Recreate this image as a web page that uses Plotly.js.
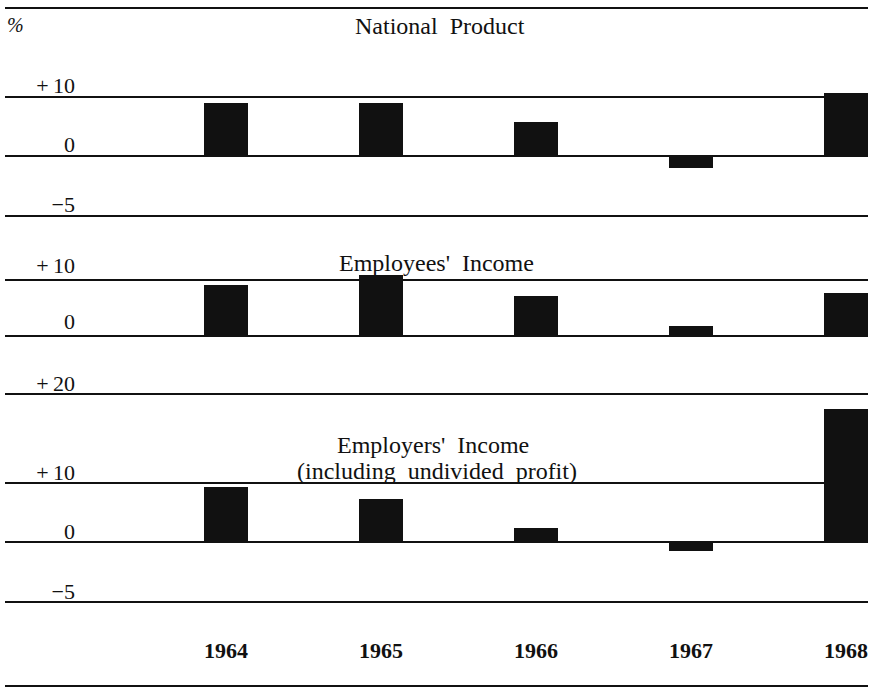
<!DOCTYPE html>
<html>
<head>
<meta charset="utf-8">
<script src="https://cdn.plot.ly/plotly-3.0.1.min.js"></script>
<style>
  html, body { margin: 0; padding: 0; background: #fff; }
  #chart { width: 870px; height: 690px; }
</style>
</head>
<body>
<div id="chart"></div>
<script>
// ---- data (annual % change) ----
const years = ['1964', '1965', '1966', '1967', '1968'];
const nationalProduct = [8.9, 8.9, 5.7, -2.0, 10.6];
const employeesIncome = [9.2, 10.9, 7.2, 1.8, 7.7];
const employersIncome = [9.3, 7.3, 2.4, -1.6, 22.5];

// ---- tick labels (as printed) ----
const tickTextTop = ['', '+\u200910', '0', '\u22125'];
const tickTextMid = ['+\u200910', '0'];
const tickTextBottom = ['+\u200920', '+\u200910', '0', '\u22125'];
// rule positions on each panel's scale (printed chart spaces its rules unevenly)
const tickValsOuter = [25.08, 10, 0, -10.17];
const tickValsMid = [10, 0];

const SP = '\u00A0 ';
const panelTitles = ['National' + SP + 'Product', "Employees'" + SP + 'Income',
  "Employers'" + SP + 'Income', '(including' + SP + 'undivided' + SP + 'profit)'];

const FONT = 'Liberation Serif, Times New Roman, serif';
const INK = '#111';

function barTrace(y, xa, ya) {
  return {
    type: 'bar', x: years, y: y, xaxis: xa, yaxis: ya,
    width: 0.29, marker: { color: INK, line: { width: 0 } },
    hoverinfo: 'x+y'
  };
}

const data = [
  barTrace(nationalProduct, 'x', 'y'),
  barTrace(employeesIncome, 'x2', 'y2'),
  barTrace(employersIncome, 'x3', 'y3')
];

const H = 690;
const dom = (pTop, pBot) => [(H - pBot) / H, (H - pTop) / H];
const xRange = [-1.426, 4.142];
const yPos = (75 - 5) / 863;

function xAxis(anchor, showLabels) {
  return {
    anchor: anchor, range: xRange, type: 'category',
    showgrid: false, zeroline: false, showline: false, ticks: '',
    showticklabels: showLabels, ticklabelstandoff: 30,
    tickfont: { family: FONT, size: 22, color: INK, weight: 'bold' },
    fixedrange: true
  };
}
function yAxis(domain, range, vals, text, shift) {
  return {
    domain: domain, range: range, anchor: 'free', position: yPos,
    tickmode: 'array', tickvals: vals, ticktext: text,
    showgrid: true, gridcolor: INK, gridwidth: 2,
    zeroline: false, showline: false, ticks: '',
    ticklabelshift: shift,
    tickfont: { family: FONT, size: 22, color: INK },
    fixedrange: true
  };
}

const titleFont = { family: FONT, size: 24, color: INK };
const px = (p) => (p - 5) / 863;
const py = (p) => (H - p) / H;
function note(text, x, y, font) {
  return { text: text, xref: 'paper', yref: 'paper', x: px(x), y: py(y),
    showarrow: false, font: font || titleFont, xanchor: 'center', yanchor: 'middle' };
}

const layout = {
  width: 870, height: 690,
  margin: { l: 5, r: 2, t: 0, b: 0 },
  paper_bgcolor: '#fff', plot_bgcolor: 'rgba(0,0,0,0)',
  showlegend: false, bargap: 0,
  xaxis: xAxis('y', false),
  xaxis2: xAxis('y2', false),
  xaxis3: xAxis('y3', true),
  yaxis: yAxis(dom(5, 219), [-10.68, 25.59], tickValsOuter, tickTextTop, -12),
  yaxis2: yAxis(dom(219, 391), [-9.87, 21.0], tickValsMid, tickTextMid, -15),
  yaxis3: yAxis(dom(391, 605), [-10.68, 25.59], tickValsOuter, tickTextBottom, -11),
  annotations: [
    note('%', 15, 25, { family: FONT, size: 20, color: INK, style: 'italic' }),
    note(panelTitles[0], 440, 26),
    note(panelTitles[1], 436, 263),
    note(panelTitles[2], 433, 445),
    note(panelTitles[3], 437, 471)
  ],
  shapes: [
    { type: 'line', xref: 'paper', yref: 'paper', x0: 0, x1: 1,
      y0: py(686), y1: py(686), line: { color: INK, width: 2 } }
  ]
};

Plotly.newPlot('chart', data, layout, { staticPlot: true, displayModeBar: false });
</script>
</body>
</html>
